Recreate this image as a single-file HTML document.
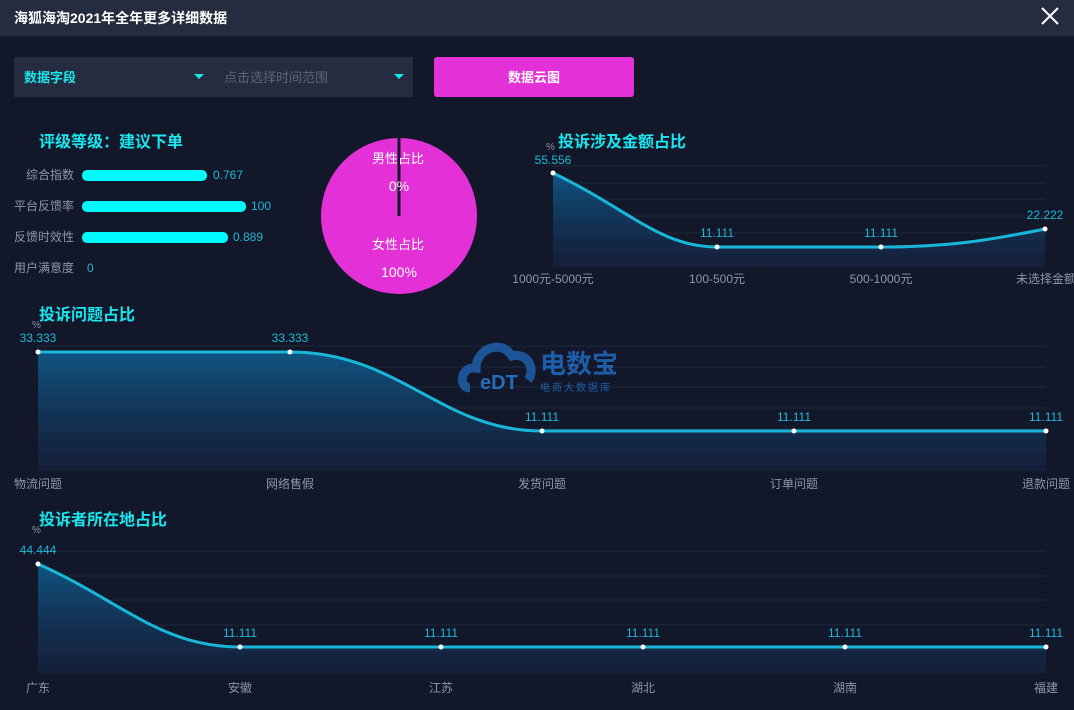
<!DOCTYPE html>
<html><head><meta charset="utf-8"><style>
body{margin:0;width:1074px;height:705px;background:#121829;overflow:hidden;font-family:"Liberation Sans","Noto Sans CJK SC",sans-serif;}
svg text{font-family:"Liberation Sans","Noto Sans CJK SC",sans-serif;}
</style></head><body>
<svg width="1074" height="705" xmlns="http://www.w3.org/2000/svg">
<defs>
<linearGradient id="g" x1="0" y1="0" x2="0" y2="1"><stop offset="0" stop-color="#0f5b8c" stop-opacity="0.9"/><stop offset="1" stop-color="#16264a" stop-opacity="0.5"/></linearGradient>
</defs>
<rect width="1074" height="705" fill="#121829"/>
<rect width="1074" height="36" fill="#252c3f"/>
<text x="14" y="23" font-size="14" font-weight="bold" fill="#fff">海狐海淘2021年全年更多详细数据</text>
<path d="M1042 8 L1058 24 M1058 8 L1042 24" stroke="#fff" stroke-width="2"/>
<rect x="14" y="57" width="399" height="40" fill="#252c3f"/>
<text x="24" y="82" font-size="13" font-weight="bold" fill="#19e6ee">数据字段</text>
<path d="M194 74 L204 74 L199 79Z" fill="#19e6ee"/>
<text x="224" y="82" font-size="13" fill="#5d6478">点击选择时间范围</text>
<path d="M394 74 L404 74 L399 79Z" fill="#19e6ee"/>
<rect x="434" y="57" width="200" height="40" rx="3" fill="#e331d7"/>
<text x="534" y="82" font-size="13" font-weight="bold" fill="#fff" text-anchor="middle">数据云图</text>
<text x="39" y="147" font-size="16" font-weight="bold" fill="#19e6ee">评级等级：建议下单</text>
<g font-size="12" fill="#8e96aa" text-anchor="end">
<text x="74" y="179">综合指数</text><text x="74" y="210">平台反馈率</text><text x="74" y="241">反馈时效性</text><text x="74" y="272">用户满意度</text></g>
<g fill="#00fbff"><rect x="82" y="170" width="125" height="11" rx="5"/><rect x="82" y="201" width="164" height="11" rx="5"/><rect x="82" y="232" width="146" height="11" rx="5"/></g>
<g font-size="12" fill="#1fb8d8"><text x="213" y="179">0.767</text><text x="251" y="210">100</text><text x="233" y="241">0.889</text><text x="87" y="272">0</text></g>
<ellipse cx="399" cy="216" rx="78" ry="78" fill="#e331d7"/>
<rect x="397.5" y="138" width="3" height="78" fill="#121829"/>
<text x="398" y="163" font-size="13" fill="#fff" text-anchor="middle">男性占比</text>
<text x="399" y="191" font-size="14" fill="#fff" text-anchor="middle" font-family="Liberation Serif">0%</text>
<text x="398" y="249" font-size="13" fill="#fff" text-anchor="middle">女性占比</text>
<text x="399" y="277" font-size="14" fill="#fff" text-anchor="middle" font-family="Liberation Serif">100%</text>
<!-- chart 1 -->
<g stroke="#1e2740" stroke-width="1"><path d="M553 166H1046M553 183H1046M553 199H1046M553 216H1046M553 233H1046M553 249H1046M553 266H1046"/></g>
<text x="546" y="150" font-size="10" fill="#8e96aa">%</text>
<text x="558" y="147" font-size="16" font-weight="bold" fill="#19e6ee">投诉涉及金额占比</text>
<path d="M553 173 C630 210 660 247 717 247 L881 247 C950 247 990 240 1045 229 L1045 266 L553 266Z" fill="url(#g)"/>
<path d="M553 173 C630 210 660 247 717 247 L881 247 C950 247 990 240 1045 229" fill="none" stroke="#18b7d9" stroke-width="3"/>
<g fill="#fff"><circle cx="553" cy="173" r="2.5"/><circle cx="717" cy="247" r="2.5"/><circle cx="881" cy="247" r="2.5"/><circle cx="1045" cy="229" r="2.5"/></g>
<g font-size="12" fill="#1fb8d8" text-anchor="middle"><text x="553" y="164">55.556</text><text x="717" y="237">11.111</text><text x="881" y="237">11.111</text><text x="1045" y="219">22.222</text></g>
<g font-size="12" fill="#8e96aa" text-anchor="middle"><text x="553" y="283">1000元-5000元</text><text x="717" y="283">100-500元</text><text x="881" y="283">500-1000元</text><text x="1016" y="283" text-anchor="start">未选择金额</text></g>
<!-- chart 2 -->
<g stroke="#1e2740"><path d="M38 346H1046M38 367H1046M38 387H1046M38 408H1046M38 429H1046M38 449H1046M38 470H1046"/></g>
<text x="39" y="320" font-size="16" font-weight="bold" fill="#19e6ee">投诉问题占比</text>
<text x="32" y="328" font-size="10" fill="#8e96aa">%</text>
<path d="M38 352 L290 352 C400 352 440 431 542 431 L1046 431 L1046 470 L38 470Z" fill="url(#g)"/>
<path d="M38 352 L290 352 C400 352 440 431 542 431 L1046 431" fill="none" stroke="#18b7d9" stroke-width="3"/>
<g fill="#fff"><circle cx="38" cy="352" r="2.5"/><circle cx="290" cy="352" r="2.5"/><circle cx="542" cy="431" r="2.5"/><circle cx="794" cy="431" r="2.5"/><circle cx="1046" cy="431" r="2.5"/></g>
<g font-size="12" fill="#1fb8d8" text-anchor="middle"><text x="38" y="342">33.333</text><text x="290" y="342">33.333</text><text x="542" y="421">11.111</text><text x="794" y="421">11.111</text><text x="1046" y="421">11.111</text></g>
<g font-size="12" fill="#8e96aa" text-anchor="middle"><text x="38" y="488">物流问题</text><text x="290" y="488">网络售假</text><text x="542" y="488">发货问题</text><text x="794" y="488">订单问题</text><text x="1046" y="488">退款问题</text></g>
<g opacity="0.85"><path d="M470 388 C458 388 460 366 476 368 C476 350 500 338 512 356 C528 352 536 370 528 380" fill="none" stroke="#1f5faa" stroke-width="9"/>
<text x="480" y="389" font-size="20" font-weight="bold" fill="#2a7bd0">eDT</text>
<text x="540" y="373" font-size="26" font-weight="bold" fill="#1f6ac0">电数宝</text>
<text x="540" y="391" font-size="10" fill="#1f6ac0" letter-spacing="2">电商大数据库</text></g>
<!-- chart 3 -->
<g stroke="#1e2740"><path d="M38 551H1046M38 576H1046M38 600H1046M38 625H1046M38 650H1046M38 672H1046"/></g>
<text x="39" y="525" font-size="16" font-weight="bold" fill="#19e6ee">投诉者所在地占比</text>
<text x="32" y="533" font-size="10" fill="#8e96aa">%</text>
<path d="M38 564 C120 600 160 647 240 647 L1046 647 L1046 672 L38 672Z" fill="url(#g)"/>
<path d="M38 564 C120 600 160 647 240 647 L1046 647" fill="none" stroke="#18b7d9" stroke-width="3"/>
<g fill="#fff"><circle cx="38" cy="564" r="2.5"/><circle cx="240" cy="647" r="2.5"/><circle cx="441" cy="647" r="2.5"/><circle cx="643" cy="647" r="2.5"/><circle cx="845" cy="647" r="2.5"/><circle cx="1046" cy="647" r="2.5"/></g>
<g font-size="12" fill="#1fb8d8" text-anchor="middle"><text x="38" y="554">44.444</text><text x="240" y="637">11.111</text><text x="441" y="637">11.111</text><text x="643" y="637">11.111</text><text x="845" y="637">11.111</text><text x="1046" y="637">11.111</text></g>
<g font-size="12" fill="#8e96aa" text-anchor="middle"><text x="38" y="692">广东</text><text x="240" y="692">安徽</text><text x="441" y="692">江苏</text><text x="643" y="692">湖北</text><text x="845" y="692">湖南</text><text x="1046" y="692">福建</text></g>
</svg>
</body></html>
